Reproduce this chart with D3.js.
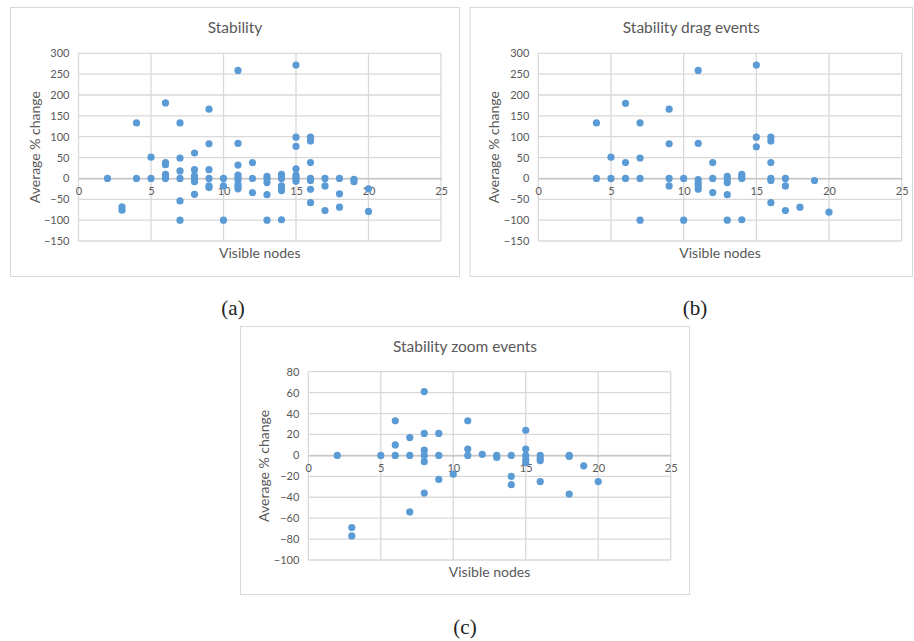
<!DOCTYPE html>
<html>
<head>
<meta charset="utf-8">
<script src="https://cdn.jsdelivr.net/npm/d3@7"></script>
<style>
  html, body { margin: 0; padding: 0; background: #fff; }
  svg { display: block; }
  text { font-family: Lato, "Open Sans", sans-serif; }
</style>
</head>
<body>
<svg id="fig" width="914" height="641"></svg>
<script>
// Visible nodes vs. average % change, per interaction type.
const stabilityAll = [
  [2, 0], [3, -68], [3, -76], [4, 133], [4, 0], [5, 51], [5, 0],
  [6, 181], [6, 38], [6, 33], [6, 10], [6, 5], [6, 0],
  [7, 133], [7, 49], [7, 18], [7, 0], [7, -54], [7, -100],
  [8, 61], [8, 21], [8, 6], [8, 0], [8, -8], [8, -38],
  [9, 166], [9, 83], [9, 21], [9, 0], [9, -18], [9, -22],
  [10, 0], [10, -18], [10, -100],
  [11, 259], [11, 84], [11, 32], [11, 8], [11, 2], [11, -4], [11, -15], [11, -20], [11, -25],
  [12, 38], [12, 0], [12, -34],
  [13, 5], [13, -1], [13, -10], [13, -39], [13, -100],
  [14, 10], [14, 4], [14, 0], [14, -18], [14, -24], [14, -29], [14, -99],
  [15, 272], [15, 99], [15, 77], [15, 23], [15, 8], [15, 3], [15, -1], [15, -7],
  [16, 99], [16, 90], [16, 38], [16, 0], [16, -5], [16, -26], [16, -58],
  [17, 0], [17, -18], [17, -77],
  [18, 0], [18, -37], [18, -69],
  [19, -2], [19, -8],
  [20, -25], [20, -79]
];

const stabilityDrag = [
  [4, 133], [4, 0], [5, 51], [5, 0], [6, 180], [6, 38], [6, 0],
  [7, 133], [7, 49], [7, 0], [7, -100],
  [9, 166], [9, 83], [9, 0], [9, -18],
  [10, 0], [10, -100],
  [11, 259], [11, 84], [11, -3], [11, -12], [11, -19], [11, -26],
  [12, 38], [12, 0], [12, -34],
  [13, 5], [13, -1], [13, -10], [13, -39], [13, -100],
  [14, 10], [14, 4], [14, 0], [14, -99],
  [15, 272], [15, 99], [15, 76],
  [16, 99], [16, 90], [16, 38], [16, 0], [16, -5], [16, -58],
  [17, 0], [17, -18], [17, -77],
  [18, -69], [19, -5], [20, -81]
];

const stabilityZoom = [
  [2, 0], [3, -69], [3, -77], [5, 0],
  [6, 33], [6, 10], [6, 0],
  [7, 17], [7, 0], [7, -54],
  [8, 61], [8, 21], [8, 5], [8, 0], [8, -6], [8, -36],
  [9, 21], [9, 0], [9, -23],
  [10, -18],
  [11, 33], [11, 6], [11, 0],
  [12, 1], [13, 0], [13, -2],
  [14, 0], [14, -20], [14, -28],
  [15, 24], [15, 6], [15, 0], [15, -4], [15, -7],
  [16, 0], [16, -3], [16, -5], [16, -25],
  [18, 0], [18, -1], [18, -37],
  [19, -10], [20, -25]
];

const xTicks = [0, 5, 10, 15, 20, 25];
const yTicksWide = [-150, -100, -50, 0, 50, 100, 150, 200, 250, 300];
const yTicksZoom = [-100, -80, -60, -40, -20, 0, 20, 40, 60, 80];

const panels = [
  { title: "Stability", data: stabilityAll, yTicks: yTicksWide, caption: "(a)",
    box: [10, 7, 460, 277], plot: [78.5, 53.3, 441, 241], captionPos: [233, 308] },
  { title: "Stability drag events", data: stabilityDrag, yTicks: yTicksWide, caption: "(b)",
    box: [469.5, 7, 913, 277], plot: [538.3, 53.3, 901.7, 241], captionPos: [695, 308] },
  { title: "Stability zoom events", data: stabilityZoom, yTicks: yTicksZoom, caption: "(c)",
    box: [240, 326, 690, 595], plot: [308.3, 371.7, 670.7, 560], captionPos: [465, 627] }
];

const svg = d3.select("#fig");
const gridColor = "#d9d9d9";
const textColor = "#595959";
const dotColor = "#5b9bd5";

panels.forEach(p => {
  const [bx0, by0, bx1, by1] = p.box;
  const [px0, py0, px1, py1] = p.plot;
  const g = svg.append("g");

  g.append("rect")
    .attr("x", bx0 + 0.5).attr("y", by0 + 0.5)
    .attr("width", bx1 - bx0 - 1).attr("height", by1 - by0 - 1)
    .attr("fill", "#fff").attr("stroke", gridColor).attr("stroke-width", 1);

  const x = d3.scaleLinear().domain([0, 25]).range([px0, px1]);
  const yExt = d3.extent(p.yTicks);
  const y = d3.scaleLinear().domain(yExt).range([py1, py0]);

  // horizontal gridlines + y tick labels
  const yAxis = d3.axisLeft(y).tickValues(p.yTicks).tickSize(0).tickPadding(9)
    .tickFormat(d3.format("d"));
  const ya = g.append("g").attr("transform", `translate(${px0},0)`).call(yAxis);
  ya.select(".domain").remove();
  ya.selectAll("text").attr("fill", textColor).style("font-size", "11px")
    .style("font-family", "Lato, sans-serif");

  g.append("g").selectAll("line").data(p.yTicks).join("line")
    .attr("x1", px0).attr("x2", px1)
    .attr("y1", d => y(d)).attr("y2", d => y(d))
    .attr("stroke", gridColor).attr("stroke-width", 1.3);

  g.append("g").selectAll("line").data(xTicks).join("line")
    .attr("x1", d => x(d)).attr("x2", d => x(d))
    .attr("y1", py0).attr("y2", py1)
    .attr("stroke", gridColor).attr("stroke-width", 1.3);

  // x tick labels sit under the zero line
  const xAxis = d3.axisBottom(x).tickValues(xTicks).tickSize(0).tickPadding(9);
  const xa = g.append("g").attr("transform", `translate(0,${y(0)})`).call(xAxis);
  xa.select(".domain").attr("stroke", "#bfbfbf").attr("stroke-width", 1.3);
  xa.selectAll("text").attr("fill", textColor).style("font-size", "11px")
    .style("font-family", "Lato, sans-serif");

  // points
  g.append("g").selectAll("circle").data(p.data).join("circle")
    .attr("cx", d => x(d[0])).attr("cy", d => y(d[1]))
    .attr("r", 3.6).attr("fill", dotColor);

  // titles
  g.append("text").attr("x", (bx0 + bx1) / 2).attr("y", by0 + 26)
    .attr("text-anchor", "middle").attr("fill", textColor)
    .style("font-size", "15.5px").text(p.title);

  g.append("text").attr("x", (px0 + px1) / 2).attr("y", py1 + 17)
    .attr("text-anchor", "middle").attr("fill", textColor)
    .style("font-size", "14px").text("Visible nodes");

  g.append("text")
    .attr("transform", `translate(${px0 - 39},${(py0 + py1) / 2}) rotate(-90)`)
    .attr("text-anchor", "middle").attr("fill", textColor)
    .style("font-size", "14px").text("Average % change");

  svg.append("text").attr("x", p.captionPos[0]).attr("y", p.captionPos[1])
    .attr("text-anchor", "middle").attr("dominant-baseline", "central")
    .attr("fill", "#222").style("font-family", "'Liberation Serif', 'DejaVu Serif', serif")
    .style("font-size", "21px").text(p.caption);
});
</script>
</body>
</html>
